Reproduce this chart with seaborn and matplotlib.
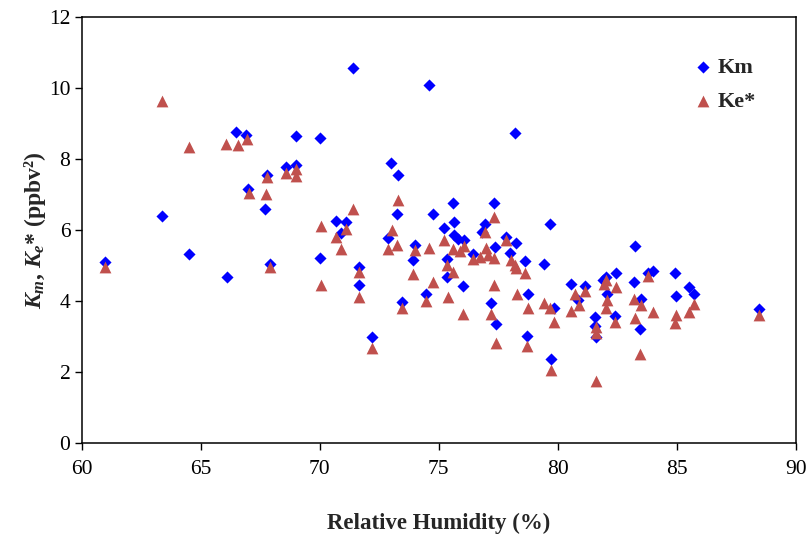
import matplotlib
matplotlib.use("Agg")
import matplotlib.pyplot as plt
import seaborn as sns
import pandas as pd

# Relative humidity (%) and K_m (ppbv^2)
rh_km = [61.0, 63.4, 64.5, 66.1, 66.5, 66.9, 67.0, 67.7, 67.8, 67.9,
         68.6, 69.0, 69.0, 70.0, 70.0, 70.7, 70.9, 71.1, 71.4, 71.65,
         71.65, 72.2, 72.85, 73.0, 73.25, 73.3, 73.45, 73.9, 74.0, 74.45,
         74.6, 74.75, 75.2, 75.35, 75.35, 75.6, 75.65, 75.65, 75.8, 76.05,
         76.0, 76.45, 76.8, 76.95, 77.2, 77.3, 77.35, 77.4, 77.8, 78.0,
         78.2, 78.25, 78.6, 78.7, 78.75, 79.4, 79.65, 79.7, 79.85, 80.55,
         80.85, 81.15, 81.55, 81.55, 81.6, 81.9, 82.0, 82.05, 82.4, 82.45,
         83.2, 83.25, 83.45, 83.5, 83.8, 84.0, 84.9, 84.95, 85.5, 85.7,
         88.45]
km = [5.11, 6.41, 5.32, 4.69, 8.77, 8.68, 7.17, 6.59, 7.56, 5.05,
      7.77, 8.64, 7.84, 8.61, 5.21, 6.25, 5.91, 6.24, 10.58, 4.96,
      4.46, 2.99, 5.77, 7.88, 6.47, 7.56, 3.99, 5.16, 5.58, 4.21,
      10.08, 6.45, 6.06, 5.20, 4.69, 6.78, 6.22, 5.88, 5.75, 5.72,
      4.42, 5.33, 5.95, 6.18, 3.94, 6.78, 5.54, 3.35, 5.81, 5.37,
      8.73, 5.63, 5.14, 3.02, 4.22, 5.04, 6.17, 2.38, 3.82, 4.48,
      4.04, 4.44, 3.57, 3.30, 2.99, 4.60, 4.69, 4.22, 3.60, 4.79,
      4.55, 5.56, 3.22, 4.07, 4.81, 4.86, 4.79, 4.15, 4.41, 4.21,
      3.78]

# Relative humidity (%) and K_e* (ppbv^2)
rh_ke = [61.0, 63.4, 64.5, 66.05, 66.55, 66.95, 67.05, 67.75, 67.8, 67.9,
         68.6, 69.0, 69.0, 70.05, 70.05, 70.7, 70.9, 71.1, 71.4, 71.65,
         71.65, 72.2, 72.85, 73.05, 73.25, 73.3, 73.45, 73.9, 74.0, 74.45,
         74.6, 74.75, 75.2, 75.35, 75.4, 75.6, 75.6, 75.9, 76.05, 76.0,
         76.45, 76.75, 76.95, 77.0, 77.05, 77.2, 77.3, 77.3, 77.3, 77.4,
         77.8, 78.05, 78.2, 78.25, 78.3, 78.6, 78.7, 78.75, 79.4, 79.65,
         79.7, 79.85, 80.55, 80.7, 80.9, 81.15, 81.6, 81.6, 81.6, 81.95,
         82.0, 82.0, 82.05, 82.4, 82.45, 83.2, 83.25, 83.45, 83.5, 83.8,
         84.0, 84.9, 84.95, 85.5, 85.7, 88.45]
ke = [4.97, 9.64, 8.33, 8.42, 8.40, 8.56, 7.04, 7.01, 7.50, 4.96,
      7.62, 7.72, 7.52, 6.12, 4.46, 5.80, 5.46, 6.03, 6.59, 4.83,
      4.13, 2.69, 5.46, 6.01, 5.58, 6.85, 3.80, 4.76, 5.44, 4.02,
      5.50, 4.54, 5.73, 5.03, 4.13, 5.48, 4.83, 5.41, 5.57, 3.64,
      5.20, 5.26, 5.96, 5.49, 5.30, 3.64, 6.38, 5.21, 4.46, 2.82,
      5.72, 5.16, 5.02, 4.93, 4.22, 4.79, 2.74, 3.80, 3.95, 3.80,
      2.07, 3.41, 3.74, 4.21, 3.90, 4.30, 3.28, 3.10, 1.77, 4.49,
      4.60, 3.80, 4.04, 3.43, 4.41, 4.06, 3.52, 2.52, 3.90, 4.72,
      3.71, 3.38, 3.61, 3.71, 3.92, 3.61]

x_ticks = [60, 65, 70, 75, 80, 85, 90]
y_ticks = [0, 2, 4, 6, 8, 10, 12]

df_km = pd.DataFrame({"rh": rh_km, "k": km})
df_ke = pd.DataFrame({"rh": rh_ke, "k": ke})

sns.set_theme(style="ticks")
plt.rcParams["font.family"] = ["Liberation Serif", "DejaVu Serif"]
plt.rcParams["mathtext.fontset"] = "custom"
plt.rcParams["mathtext.it"] = "Liberation Serif:italic:bold"
plt.rcParams["mathtext.rm"] = "Liberation Serif:bold"
plt.rcParams["mathtext.bf"] = "Liberation Serif:bold"

fig = plt.figure(figsize=(8.07, 5.34), dpi=100)
ax = fig.add_axes([0.101, 0.1695, 0.8855, 0.7985])

sns.scatterplot(data=df_km, x="rh", y="k", ax=ax, marker="D", color="#0000FF",
                s=38, linewidth=0, label="Km", zorder=3)
sns.scatterplot(data=df_ke, x="rh", y="k", ax=ax, marker="^", color="#C0504D",
                s=72, linewidth=0, label="Ke*", zorder=4)

ax.set_xlim(60, 90)
ax.set_ylim(0, 12)
ax.set_xticks(x_ticks)
ax.set_yticks(y_ticks)
ax.tick_params(axis="both", direction="out", length=5, width=1.0,
               labelsize=15.5, colors="black", top=False, right=False)
ax.tick_params(axis="y", pad=3)
ax.tick_params(axis="x", pad=7)
for side in ["left", "bottom", "right", "top"]:
    ax.spines[side].set_visible(True)
    ax.spines[side].set_color("#000000")
    ax.spines[side].set_linewidth(1.1)

ax.set_xlabel("Relative Humidity (%)", fontsize=16.5, fontweight="bold", labelpad=24)
ax.set_ylabel(r"$K_{m}$, $K_{e}$* (ppbv²)", fontsize=17, fontweight="bold", labelpad=1)

leg = ax.legend(loc="upper right", bbox_to_anchor=(0.972, 0.952), frameon=False,
                prop={"family": "Liberation Serif", "weight": "bold", "size": 16},
                handletextpad=0.15, labelspacing=0.6, markerscale=1.0,
                handlelength=1.0)

fig.savefig("out.png", dpi=100)
